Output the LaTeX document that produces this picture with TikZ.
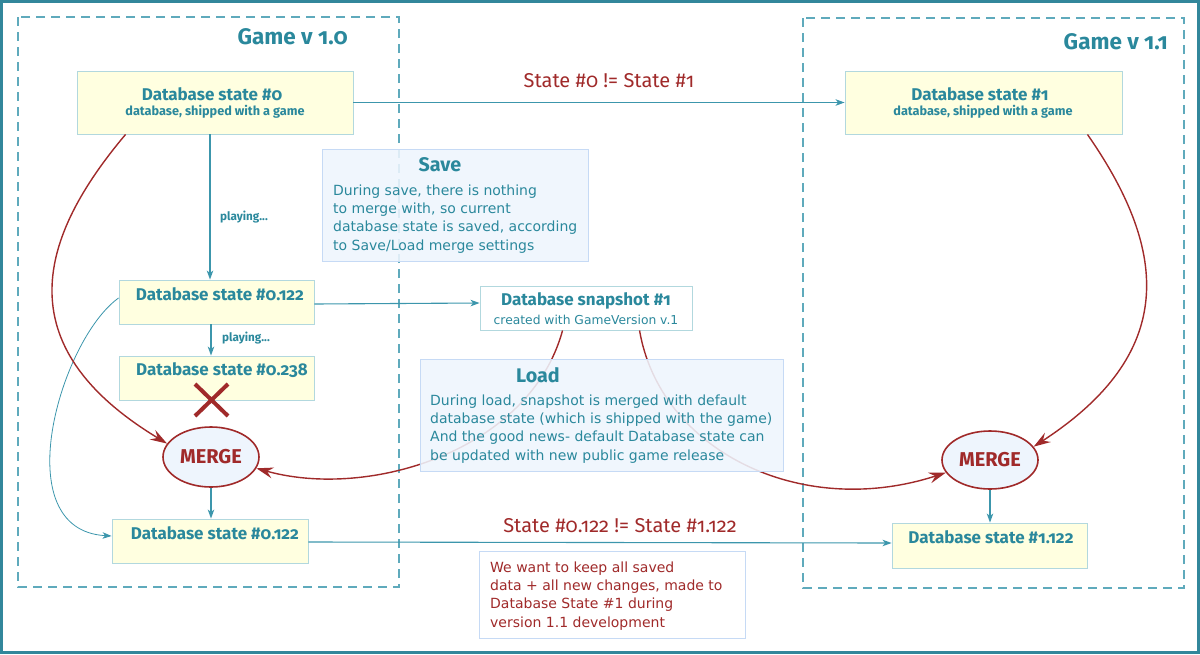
\documentclass[tikz,border=0pt]{standalone}
\usepackage{fontspec}
\setmainfont{DejaVu Sans}
\newfontfamily\fira[Numbers=OldStyle]{Fira Sans}
\usetikzlibrary{arrows.meta,calc,shapes.geometric}
\definecolor{frameteal}{RGB}{50,135,155}
\definecolor{dashteal}{RGB}{95,170,188}
\definecolor{tealtext}{RGB}{42,136,156}
\definecolor{tealline}{RGB}{60,150,172}
\definecolor{redc}{RGB}{160,42,42}
\definecolor{dbfill}{RGB}{255,255,224}
\definecolor{dbborder}{RGB}{178,216,222}
\definecolor{notefill}{RGB}{238,245,253}
\definecolor{noteborder}{RGB}{198,218,245}
\tikzset{
  dbbox/.style={draw=dbborder, fill=dbfill, line width=0.9pt, inner sep=0pt},
  snapbox/.style={draw=dbborder, fill=white, line width=0.9pt, inner sep=0pt},
  notebox/.style={draw=noteborder, fill=notefill, fill opacity=0.88, line width=0.9pt, inner sep=0pt},
  whitebox/.style={draw=noteborder, fill=white, line width=0.9pt, inner sep=0pt},
  mergenode/.style={ellipse, draw=redc, fill=notefill, line width=1.6pt, inner sep=0pt,
    text=redc, font=\fira\bfseries\fontsize{20}{23}\selectfont},
  dbtitle/.style={font=\fira\bfseries\fontsize{17}{20}\selectfont, text=tealtext, inner sep=0pt},
  dbsub/.style={font=\fira\bfseries\fontsize{12.7}{15}\selectfont, text=tealtext, inner sep=0pt},
  gametitle/.style={font=\fira\bfseries\fontsize{22.5}{26}\selectfont, text=tealtext, inner sep=0pt},
  playlbl/.style={font=\fira\bfseries\fontsize{11.7}{14}\selectfont, text=tealtext, inner sep=0pt},
  redlbl/.style={font=\fira\fontsize{20}{23}\selectfont, text=redc, inner sep=0pt},
  bodytext/.style={font=\fontsize{14}{18.3}\selectfont, text=tealtext, align=left, inner sep=0pt, anchor=north west},
  boxtitle/.style={font=\fira\bfseries\fontsize{19.7}{23}\selectfont, text=tealtext, inner sep=0pt},
  tarrow/.style={draw=tealline, line width=1.1pt, -{Stealth[length=9pt,width=6.5pt,inset=2.5pt]}},
  rarrow/.style={draw=redc, line width=1.4pt, -{Stealth[length=17pt,width=11pt,inset=6pt]}},
  gameframe/.style={draw=dashteal, line width=1.4pt, dash pattern=on 9pt off 6pt}
}
\begin{document}
\begin{tikzpicture}[x=1pt,y=-1pt]
\useasboundingbox (0,0) rectangle (1200,654);
\draw[frameteal, line width=3pt] (1.5,1.5) rectangle (1198.5,652.5);
% game frames
\draw[gameframe] (18,17) rectangle (399,587);
\draw[gameframe] (803,18) rectangle (1184,588);
\node[gametitle, anchor=east] (g10) at (348,37) {Game v 1.0};
\node[gametitle, anchor=east] (g11) at (1168,42) {Game v 1.1};
% boxes
\node[dbbox, minimum width=276pt, minimum height=63pt] (ds0) at (215,102.5) {};
\node[dbbox, minimum width=277pt, minimum height=63pt] (ds1) at (983.5,102.5) {};
\node[dbbox, minimum width=195pt, minimum height=44pt] (dsa) at (216.5,302) {};
\node[dbbox, minimum width=195pt, minimum height=44pt] (dsb) at (216.5,378) {};
\node[dbbox, minimum width=196pt, minimum height=44pt] (dsc) at (210,541) {};
\node[dbbox, minimum width=195pt, minimum height=45pt] (dsd) at (989.5,545.5) {};
\node[snapbox, minimum width=212pt, minimum height=44pt] (snap) at (586,308) {};
\node[mergenode, minimum width=96pt, minimum height=60pt] (m0) at (211,457) {MERGE};
\node[mergenode, minimum width=96pt, minimum height=58pt] (m1) at (990,460) {MERGE};
% teal arrows
\draw[tarrow] (ds0.east) -- (ds1.west);
\coordinate (p1) at ($(ds0.south)+(-5,0)$);
\draw[tarrow] (p1) -- (p1 |- dsa.north);
\coordinate (p2) at ($(dsa.south)+(-5.5,0)$);
\draw[tarrow] (p2) -- (p2 |- dsb.north);
\draw[tarrow] ($(dsa.east)+(0,2)$) -- ($(snap.west)+(0,-5)$);
\draw[tarrow] (m0.south) -- (m0.south |- dsc.north);
\draw[tarrow] ($(dsc.east)+(0,1)$) -- ($(dsd.west)+(0,-2.5)$);
\draw[tarrow] (m1.south) -- (m1.south |- dsd.north);
\draw[tarrow, line width=0.8pt] ($(dsa.west)+(0,-4)$) .. controls (60,340) and (5,530) .. ($(dsc.west)+(0,-5)$);
% red curves
\draw[rarrow] ($(ds0.south west)+(49,0)$) .. controls (40,236) and (4,345) .. (m0.163);
\draw[rarrow] ($(ds1.south east)+(-35,0)$) .. controls (1170,253) and (1176,354) .. (m1.17);
\draw[rarrow] ($(snap.south west)+(83,0)$) .. controls (530,450) and (370,500) .. (m0.-14);
\draw[rarrow] ($(snap.south west)+(160,0)$) .. controls (660,450) and (800,520) .. (m1.196);
% red cross
\draw[redc, line width=4pt] (195,384) -- (228,416);
\draw[redc, line width=4pt] (228,384) -- (195,416);
% note boxes
\node[notebox, minimum width=266pt, minimum height=112pt] (save) at (455,205) {};
\node[notebox, minimum width=363pt, minimum height=112pt] (load) at (601.5,415) {};
\node[whitebox, minimum width=266pt, minimum height=87pt] (note) at (612,594.5) {};
% texts
\node[dbtitle] (t0) at (212,94) {Database state \#0};
\node[dbsub] (s0) at (215,112) {database, shipped with a game};
\node[dbtitle] (t1) at (980,94) {Database state \#1};
\node[dbsub] (s1) at (983,112) {database, shipped with a game};
\node[dbtitle] (ta) at (220,294) {Database state \#0.122};
\node[dbtitle] (tb) at (222,370) {Database state \#0.238};
\node[dbtitle] (tc) at (215,533) {Database state \#0.122};
\node[dbtitle] (td) at (991,537) {Database state \#1.122};
\node[dbtitle] (tsn) at (586,301) {Database snapshot \#1};
\node[inner sep=0pt, text=tealtext, font=\fontsize{12.3}{14}\selectfont] (ssn) at (586,320) {created with GameVersion v.1};
\node[playlbl] (pl1) at (244,217) {playing...};
\node[playlbl] (pl2) at (246,338) {playing...};
\node[redlbl] (neq1) at (609,81) {State \#0 != State \#1};
\node[redlbl] (neq2) at (620,526) {State \#0.122 != State \#1.122};
\node[boxtitle] (tsave) at (440,165) {Save};
\node[bodytext] (bsave) at (333,184.5) {During save, there is nothing\\to merge with, so current\\database state is saved, according\\to Save/Load merge settings};
\node[boxtitle] (tload) at (538,375) {Load};
\node[bodytext] (bload) at (430,394.5) {During load, snapshot is merged with default\\database state (which is shipped with the game)\\And the good news- default Database state can\\be updated with new public game release};
\node[bodytext, text=redc] (bnote) at (490,561.5) {We want to keep all saved\\data + all new changes, made to\\Database State \#1 during\\version 1.1 development};
\end{tikzpicture}
\end{document}
